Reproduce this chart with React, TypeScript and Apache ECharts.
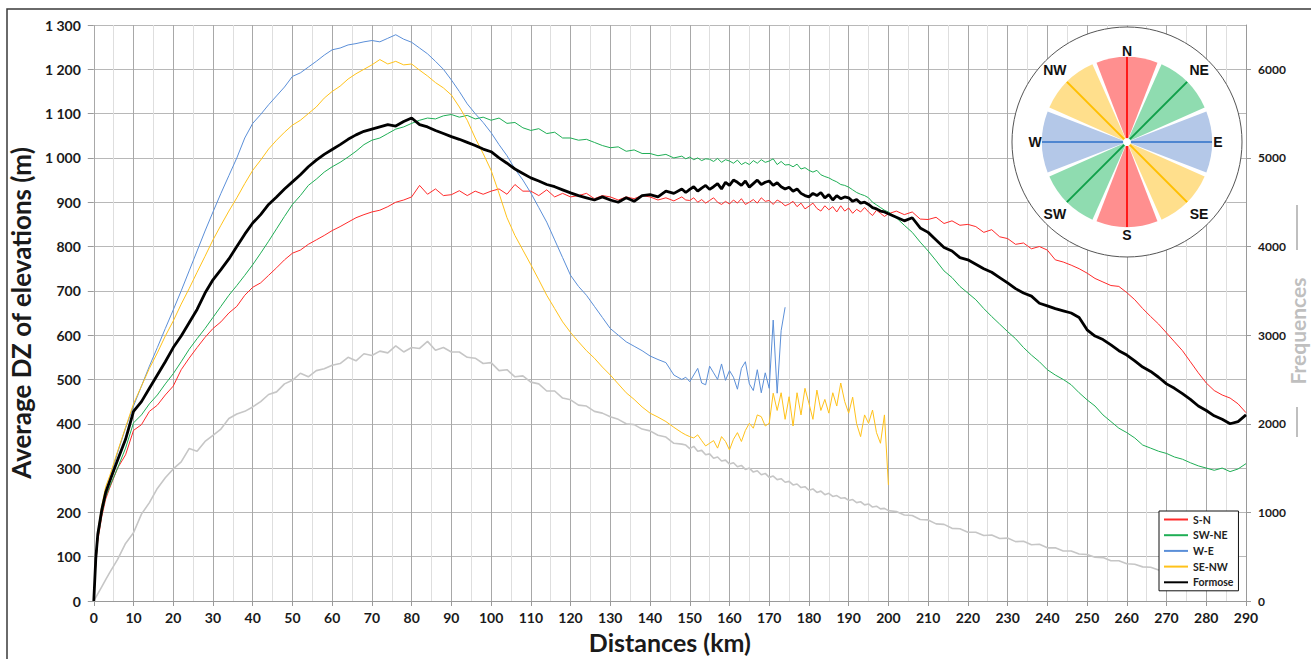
import React, { useEffect, useRef } from "react";
import * as echarts from "echarts";

// Distances (km) at which the profiles were read
const distances = [
  0, 0.5, 1, 2, 3, 4,
  6, 8, 10, 12, 14, 16, 18, 20, 22, 24,
  26, 28, 30, 32, 34, 36, 38, 40, 42, 44,
  46, 48, 50, 52, 54, 56, 58, 60, 62, 64,
  66, 68, 70, 72, 74, 76, 78, 80, 82, 84,
  86, 88, 90, 92, 94, 96, 98, 100, 102, 104,
  106, 108, 110, 112, 114, 116, 118, 120, 122, 124,
  126, 128, 130, 132, 134, 136, 138, 140, 142, 144,
  146, 148,
  149, 150, 151, 152, 153, 154, 155, 156, 157, 158,
  159, 160, 161, 162, 163, 164, 165, 166, 167, 168,
  169, 170, 171, 172, 173, 174, 175, 176, 177, 178,
  179, 180, 181, 182, 183, 184, 185, 186, 187, 188,
  189, 190, 191, 192, 193, 194, 195, 196, 197, 198,
  199, 200,
  202, 204, 206, 208, 210, 212, 214, 216, 218, 220,
  222, 224, 226, 228, 230, 232, 234, 236, 238, 240,
  242, 244, 246, 248, 250, 252, 254, 256, 258, 260,
  262, 264, 266, 268, 270, 272, 274, 276, 278, 280,
  282, 284, 286, 288, 290,
];

const sN = [
  0, 85, 135, 190, 230, 255,
  300, 330, 385, 398, 428, 442, 465, 485, 522, 548,
  572, 595, 615, 630, 650, 665, 690, 708, 718, 735,
  752, 770, 785, 792, 805, 815, 825, 836, 845, 855,
  865, 872, 878, 882, 890, 900, 905, 912, 938, 918,
  930, 915, 917, 926, 915, 925, 918, 925, 930, 918,
  940, 925, 925, 915, 928, 912, 920, 912, 915, 920,
  908, 915, 912, 905, 912, 908, 915, 912, 905, 910,
  903, 912,
  905, 904, 910, 900, 906, 898, 904, 910, 900, 895,
  902, 896, 905, 898, 908, 895, 900, 906, 898, 910,
  902, 904, 895, 905, 900, 892, 896, 902, 890, 898,
  885, 891, 898, 886, 880, 892, 883, 890, 878, 892,
  880, 887, 875, 884, 878, 888, 878, 870, 882, 875,
  868, 874,
  880, 872, 878, 862, 861, 866, 852, 858, 848, 850,
  845, 832, 838, 822, 818, 805, 808, 795, 800, 792,
  770, 765, 758, 750, 740, 728, 720, 712, 710, 696,
  680, 660, 642, 625, 605, 585, 565, 540, 515, 492,
  475, 465, 458, 445, 425,
];

const swNE = [
  0, 85, 140, 195, 235, 258,
  300, 345, 402, 420, 445, 465, 490, 513, 540, 568,
  592, 615, 640, 665, 690, 712, 735, 759, 785, 812,
  840, 868, 895, 915, 938, 952, 968, 980, 990, 1002,
  1015, 1030, 1040, 1045, 1055, 1065, 1070, 1078, 1085, 1090,
  1088, 1095, 1098, 1092, 1096, 1088, 1092, 1085, 1090, 1078,
  1080, 1068, 1062, 1066, 1055, 1058, 1045, 1045, 1040, 1042,
  1035, 1028, 1023, 1025, 1015, 1018, 1010, 1010, 1005, 1008,
  1000, 1004,
  998, 1002, 996, 1000, 994, 998, 997, 992, 999, 990,
  996, 993, 988, 995, 985, 990, 985, 994, 988, 996,
  990, 993, 998, 985, 992, 984, 985, 980, 986, 975,
  978, 972, 968, 972, 962, 958, 955, 950, 946, 940,
  938, 934, 928, 922, 918, 915, 910, 900, 894, 888,
  882, 878,
  865, 848, 832, 810, 790, 768, 745, 730, 710, 695,
  680, 660, 642, 625, 608, 592, 572, 555, 540, 522,
  510, 500, 488, 470, 454, 440, 420, 405, 390, 380,
  368, 352, 345, 338, 333, 325, 320, 312, 305, 300,
  295, 300, 292, 298, 310,
];

const wE = [
  0, 95, 150, 210, 250, 275,
  335, 390, 440, 485, 530, 572, 615, 657, 700, 745,
  790, 835, 878, 920, 960, 1000, 1045, 1078, 1098, 1120,
  1140, 1160, 1184, 1192, 1205, 1218, 1232, 1244, 1248, 1255,
  1258, 1262, 1265, 1262, 1270, 1278, 1268, 1261, 1248, 1235,
  1218, 1200, 1176, 1150, 1122, 1100, 1080, 1057, 1030, 1005,
  975, 950, 921, 888, 855, 815, 775, 735, 710, 690,
  665, 640, 615, 600, 585, 575, 565, 553, 545, 538,
  510, 500,
  505, 495, 510, 525, 492, 488, 530, 515, 500, 535,
  498, 520, 505, 478, 525, 540, 490, 475, 522, 470,
  515, 480, 634, 469, 610, 663,
];

const seNW = [
  0, 100, 155, 215, 258, 282,
  338, 392, 445, 485, 525, 560, 598, 632, 670, 705,
  742, 778, 815, 848, 880, 910, 942, 972, 995, 1020,
  1040, 1058, 1074, 1085, 1100, 1115, 1135, 1150, 1162, 1178,
  1190, 1200, 1210, 1222, 1212, 1218, 1210, 1212, 1198, 1185,
  1170, 1158, 1142, 1115, 1085, 1045, 1010, 972, 920, 865,
  825, 792, 759, 725, 690, 660, 630, 606, 585, 565,
  548, 528, 510, 490, 470, 455, 438, 424, 415, 405,
  392, 380,
  375, 371, 368, 375, 362, 350, 356, 362, 345, 371,
  360, 341, 365, 380, 360, 385, 401, 390, 420, 416,
  395, 401, 469, 430, 470, 410, 461, 395, 470, 420,
  480, 446, 410, 476, 430, 455, 424, 470, 440, 492,
  450, 424, 460, 400, 371, 420, 401, 431, 380, 356,
  420, 262,
];

const formose = [
  0, 95, 150, 205, 245, 270,
  318, 365, 428, 450, 480, 510, 540, 572, 598, 628,
  658, 695, 725, 748, 772, 800, 828, 853, 872, 895,
  912, 930, 946, 962, 980, 995, 1008, 1019, 1030, 1042,
  1052, 1060, 1065, 1070, 1075, 1072, 1082, 1090, 1075, 1070,
  1062, 1055, 1048, 1042, 1035, 1028, 1020, 1014, 1000, 988,
  975, 965, 955, 948, 940, 935, 928, 921, 915, 910,
  905, 912, 905, 900, 910, 902, 915, 917, 912, 925,
  920, 930,
  922, 929, 935, 925, 932, 938, 929, 935, 942, 930,
  945, 938, 950, 945, 938, 948, 934, 942, 950, 940,
  945, 948, 938, 944, 935, 930, 934, 925, 930, 920,
  915, 912, 920, 915, 922, 910, 917, 905, 915, 908,
  912, 910, 902, 906, 898, 900, 895, 888, 885, 880,
  878, 874,
  866, 858, 865, 842, 832, 815, 798, 790, 775, 770,
  760, 750, 742, 730, 718, 705, 695, 688, 672, 666,
  660, 655, 650, 640, 612, 598, 590, 578, 565, 555,
  542, 528, 518, 505, 490, 480, 468, 455, 440, 430,
  418, 410, 400, 405, 420,
];

const frequences = [
  0, 40, 80, 160, 240, 320,
  470, 650, 770, 980, 1110, 1270, 1390, 1490, 1570, 1720,
  1690, 1800, 1870, 1940, 2060, 2110, 2140, 2190, 2250, 2330,
  2360, 2450, 2490, 2570, 2530, 2600, 2620, 2660, 2680, 2750,
  2710, 2790, 2770, 2820, 2800, 2880, 2810, 2860, 2850, 2930,
  2830, 2860, 2810, 2810, 2750, 2740, 2680, 2690, 2600, 2610,
  2530, 2540, 2470, 2450, 2370, 2370, 2290, 2270, 2210, 2200,
  2140, 2120, 2080, 2050, 2000, 1990, 1940, 1920, 1870, 1850,
  1780, 1770,
  1760, 1720, 1745, 1690, 1700, 1650, 1660, 1610, 1625, 1580,
  1590, 1545, 1560, 1515, 1530, 1485, 1500, 1455, 1470, 1425,
  1440, 1395, 1410, 1370, 1380, 1340, 1350, 1310, 1320, 1280,
  1290, 1250, 1265, 1225, 1240, 1200, 1215, 1180, 1190, 1160,
  1165, 1135, 1145, 1110, 1120, 1085, 1095, 1060, 1070, 1040,
  1045, 1020,
  1010, 970, 965, 920, 915, 870, 865, 820, 815, 775,
  775, 740, 745, 705, 710, 670, 675, 635, 640, 600,
  600, 565, 565, 530, 525, 495, 490, 455, 455, 420,
  415, 385, 380, 350, 345, 320, 315, 285, 285, 255,
  245, 225, 215, 190,
];

const compassDirs = ["N", "NE", "E", "SE", "S", "SW", "W", "NW"];
const compassWedgeColors = ["#ff8f8f", "#8fdcb0", "#b4c8e8", "#ffdf8c", "#ff8f8f", "#8fdcb0", "#b4c8e8", "#ffdf8c"];
const compassLineColors = ["#ff1a1a", "#0fa04a", "#4f86d0", "#ffbf00"];

const FONT = "Lato";

export default function App() {
  const ref = useRef<HTMLDivElement>(null);

  useEffect(() => {
    const chart = echarts.init(ref.current!, null, { renderer: "svg" });
    const pairs = (arr: number[]) => arr.map((v, i) => [distances[i], v]);

    const cx = 1127, cy = 142, rW = 85, rO = 115;
    const deg = Math.PI / 180;
    const compass: any[] = [];
    compass.push({ type: "circle", shape: { cx, cy, r: rO }, style: { fill: "#fff", stroke: "#555", lineWidth: 1 }, z: 100, silent: true });
    compassDirs.forEach((d, i) => {
      const a = (-90 + i * 45) * deg;
      compass.push({
        type: "sector",
        shape: { cx, cy, r: rW, r0: 0, startAngle: a - 21 * deg, endAngle: a + 21 * deg },
        style: { fill: compassWedgeColors[i] },
        z: 101, silent: true,
      });
    });
    for (let i = 0; i < 4; i++) {
      const a = (-90 + i * 45) * deg;
      compass.push({
        type: "line",
        shape: { x1: cx + rW * Math.cos(a), y1: cy + rW * Math.sin(a), x2: cx - rW * Math.cos(a), y2: cy - rW * Math.sin(a) },
        style: { stroke: compassLineColors[i], lineWidth: 2 },
        z: 102, silent: true,
      });
    }
    compass.push({ type: "circle", shape: { cx, cy, r: 4 }, style: { fill: "#fff" }, z: 103, silent: true });
    const labelR = [91, 102, 91, 102, 93, 102, 92, 102];
    compassDirs.forEach((d, i) => {
      const a = (-90 + i * 45) * deg;
      compass.push({
        type: "text",
        x: cx + labelR[i] * Math.cos(a),
        y: cy + labelR[i] * Math.sin(a),
        style: { text: d, align: "center", verticalAlign: "middle", fontSize: 14, fontWeight: "bold", fontFamily: "Liberation Sans", fill: "#111" },
        z: 104, silent: true,
      });
    });

    const lbl = { fontFamily: FONT, fontWeight: "bold" as const, color: "#1a1a1a" };

    const option: any = {
      animation: false,
      backgroundColor: "#fff",
      grid: { left: 93, right: 65, top: 25, bottom: 58 },
      xAxis: {
        type: "value",
        min: 0,
        max: 290,
        interval: 10,
        name: "Distances (km)",
        nameLocation: "middle",
        nameGap: 28,
        nameTextStyle: { ...lbl, fontSize: 25 },
        axisLine: { show: true, lineStyle: { color: "#9a9a9a" } },
        axisTick: { show: true, length: 5, lineStyle: { color: "#9a9a9a" } },
        axisLabel: { ...lbl, fontSize: 14, margin: 9 },
        splitLine: { show: true, lineStyle: { color: "#a8a8a8" } },
        minorTick: { show: false, splitNumber: 2 },
        minorSplitLine: { show: true, lineStyle: { color: "#dedede" } },
      },
      yAxis: [
        {
          type: "value",
          min: 0,
          max: 1300,
          interval: 100,
          name: "Average DZ of elevations (m)",
          nameLocation: "middle",
          nameRotate: 90,
          nameGap: 52,
          nameTextStyle: { ...lbl, fontSize: 26 },
          axisLine: { show: false },
          axisTick: { show: true, length: 6, lineStyle: { color: "#9a9a9a" } },
          axisLabel: {
            ...lbl,
            fontSize: 14,
            margin: 13,
            formatter: (v: number) => (v >= 1000 ? `${Math.floor(v / 1000)} ${String(v % 1000).padStart(3, "0")}` : String(v)),
          },
          splitLine: { show: true, lineStyle: { color: "#b8b8b8" } },
        },
        {
          type: "value",
          min: 0,
          max: 6500,
          interval: 1000,
          position: "right",
          axisLine: { show: true, lineStyle: { color: "#9a9a9a" } },
          axisTick: { show: true, length: 5, lineStyle: { color: "#9a9a9a" } },
          axisLabel: { ...lbl, fontSize: 12, margin: 12, showMaxLabel: false, formatter: (v: number) => String(v) },
          splitLine: { show: false },
        },
      ],
      legend: {
        data: ["S-N", "SW-NE", "W-E", "SE-NW", "Formose"],
        orient: "vertical",
        left: 1159,
        top: 511,
        itemWidth: 24,
        itemHeight: 12,
        itemGap: 4.7,
        itemStyle: { opacity: 0 },
        textStyle: { fontFamily: FONT, fontWeight: "bold", fontSize: 10.5, color: "#222" },
        backgroundColor: "#fff",
        borderColor: "#111",
        borderWidth: 1,
        borderRadius: 0,
        padding: [3, 5, 3, 4],
        z: 50,
      },
      series: [
        { name: "Frequences", type: "line", yAxisIndex: 1, data: pairs(frequences), symbol: "none", lineStyle: { color: "#c6c6c6", width: 1.6 }, itemStyle: { color: "#c6c6c6" }, z: 1, silent: true },
        { name: "S-N", type: "line", data: pairs(sN), symbol: "none", lineStyle: { color: "#ff2a2a", width: 1 }, itemStyle: { color: "#ff2a2a" }, z: 2, silent: true },
        { name: "SW-NE", type: "line", data: pairs(swNE), symbol: "none", lineStyle: { color: "#1fae55", width: 1 }, itemStyle: { color: "#1fae55" }, z: 3, silent: true },
        { name: "W-E", type: "line", data: pairs(wE), symbol: "none", lineStyle: { color: "#5b8fd8", width: 1 }, itemStyle: { color: "#5b8fd8" }, z: 4, silent: true },
        { name: "SE-NW", type: "line", data: pairs(seNW), symbol: "none", lineStyle: { color: "#ffc21a", width: 1 }, itemStyle: { color: "#ffc21a" }, z: 5, silent: true },
        { name: "Formose", type: "line", data: pairs(formose), symbol: "none", lineStyle: { color: "#000", width: 2.8 }, itemStyle: { color: "#000" }, z: 6, silent: true },
      ],
      graphic: [
        { type: "rect", shape: { x: 7, y: 9, width: 1400, height: 700 }, style: { fill: "none", stroke: "#3a3a3a", lineWidth: 1.5 }, silent: true, z: 0 },
        { type: "text", x: 1297, y: 331, rotation: Math.PI / 2, style: { text: "Frequences", align: "center", verticalAlign: "middle", fontSize: 21, fontWeight: "bold", fontFamily: FONT, fill: "#bfbfbf" }, silent: true },
        { type: "line", shape: { x1: 1297, y1: 205, x2: 1297, y2: 250 }, style: { stroke: "#bfbfbf", lineWidth: 2 }, silent: true },
        { type: "line", shape: { x1: 1297, y1: 407, x2: 1297, y2: 437 }, style: { stroke: "#bfbfbf", lineWidth: 2 }, silent: true },
        ...compass,
      ],
    };

    chart.setOption(option);
    return () => chart.dispose();
  }, []);

  return <div ref={ref} style={{ position: "fixed", left: 0, top: 0, width: 1311, height: 659, background: "#fff" }} />;
}
